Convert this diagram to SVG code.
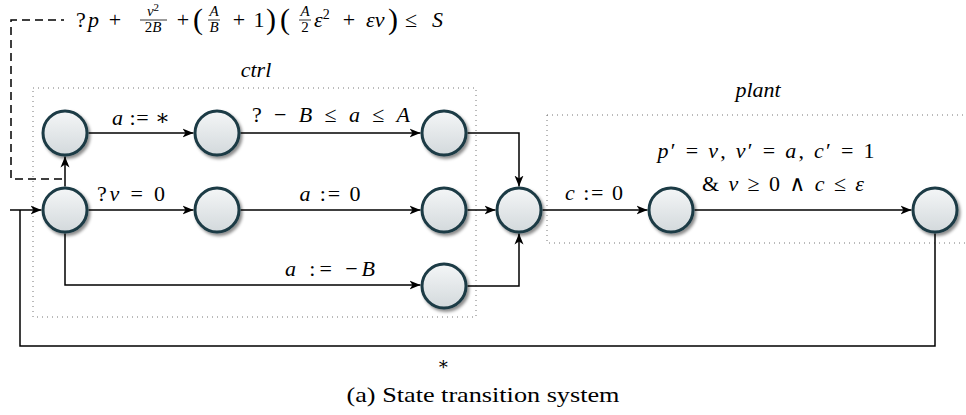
<svg xmlns="http://www.w3.org/2000/svg" width="966" height="415" viewBox="0 0 966 415" font-family="'Liberation Serif', 'DejaVu Serif', 'Times New Roman', serif">
<defs>
<linearGradient id="g" x1="0" y1="0" x2="0" y2="1"><stop offset="0" stop-color="#f4f6f7"/><stop offset="1" stop-color="#d3d9dc"/></linearGradient>
<filter id="sh" x="-30%" y="-30%" width="160%" height="160%"><feDropShadow dx="2" dy="2.5" stdDeviation="1.5" flood-color="#000" flood-opacity="0.45"/></filter>
<marker id="ar" markerUnits="userSpaceOnUse" markerWidth="12" markerHeight="10" refX="11" refY="5" orient="auto" viewBox="0 0 12 10"><path d="M0,0.5 L11,5 L0,9.5 L3,5 z" fill="#000"/></marker>
</defs>
<style>
.n{fill:url(#g);stroke:#1b3a45;stroke-width:3;filter:url(#sh)}
.e{fill:none;stroke:#000;stroke-width:1.5}
.a{marker-end:url(#ar)}
.d{fill:none;stroke:#000;stroke-width:1.5;stroke-dasharray:8 5}
.box{fill:none;stroke:#777;stroke-width:1;stroke-dasharray:1 4}
text{font-family:'Liberation Serif','DejaVu Serif','Times New Roman',serif;font-size:22px;fill:#000}
.i{font-style:italic}
.m{text-anchor:middle}
.s{font-size:15px}
.p{font-size:30px}
</style>

<g id="regions">
<rect class="box" x="33" y="88" width="443" height="229"/>
<text class="i m" x="256" y="77">ctrl</text>
<rect class="box" x="547" y="115" width="430" height="128"/>
<text class="i m" x="758" y="97">plant</text>
</g>

<g id="connectors">
<path class="e a" d="M10,210 H41.5"/>
<path class="e" d="M935,233.5 V346 H20 V210"/>
<path class="e a" d="M65,186.5 V156.5"/>
<path class="e a" d="M88.5,133 H193.5"/>
<path class="e a" d="M240.5,133 H420.5"/>
<path class="e a" d="M467.5,133 H519 V186.5"/>
<path class="e a" d="M88.5,210 H193.5"/>
<path class="e a" d="M240.5,210 H420.5"/>
<path class="e a" d="M467.5,210 H495.5"/>
<path class="e a" d="M542.5,210 H647.5"/>
<path class="e a" d="M694.5,210 H911.5"/>
<path class="e a" d="M65,233.5 V285 H420.5"/>
<path class="e a" d="M467.5,286 H519 V233.5"/>
<path class="d" d="M62,179 H11 V20 H64"/>
</g>

<g id="labels">
<text class="m" x="141" y="125" textLength="58"><tspan class="i">a</tspan> := ∗</text>
<text class="m" x="331" y="122" textLength="158">? − <tspan class="i">B</tspan> ≤ <tspan class="i">a</tspan> ≤ <tspan class="i">A</tspan></text>
<text class="m" x="131" y="201" textLength="68">?<tspan class="i">v</tspan> = 0</text>
<text class="m" x="330" y="201" textLength="61"><tspan class="i">a</tspan> := 0</text>
<text class="m" x="330" y="276" textLength="90"><tspan class="i">a</tspan> := −<tspan class="i">B</tspan></text>
<text class="m" x="594" y="200" textLength="58"><tspan class="i">c</tspan> := 0</text>
<text class="m" x="766" y="158" textLength="217"><tspan class="i">p</tspan>′ = <tspan class="i">v</tspan>, <tspan class="i">v</tspan>′ = <tspan class="i">a</tspan>, <tspan class="i">c</tspan>′ = 1</text>
<text class="m" x="783" y="191" textLength="162">&amp; <tspan class="i">v</tspan> ≥ 0 ∧ <tspan class="i">c</tspan> ≤ <tspan class="i">ε</tspan></text>
<text class="m" x="443" y="370" style="font-size:18px">∗</text>
<text class="m" x="483" y="402" style="font-size:21px" textLength="273" lengthAdjust="spacingAndGlyphs">(a) State transition system</text>
</g>

<g id="guard">
<text class="m" x="81" y="27">?</text>
<text class="i" x="88" y="27">p</text>
<text class="m" x="115" y="27">+</text>
<text class="m s" x="153" y="16"><tspan class="i">v</tspan><tspan font-size="11" dy="-5">2</tspan></text>
<line x1="140" y1="20" x2="167" y2="20" stroke="#000" stroke-width="0.8"/>
<text class="m s" x="153" y="32">2<tspan class="i">B</tspan></text>
<text class="m" x="183" y="27">+</text>
<text class="m p" x="198" y="29">(</text>
<text class="m s i" x="214" y="16">A</text>
<line x1="208" y1="20" x2="220" y2="20" stroke="#000" stroke-width="0.8"/>
<text class="m s i" x="214" y="32">B</text>
<text class="m" x="239" y="27">+</text>
<text class="m" x="259" y="27">1</text>
<text class="m p" x="271" y="29">)</text>
<text class="m p" x="285" y="29">(</text>
<text class="m s i" x="305" y="16">A</text>
<line x1="299" y1="20" x2="311" y2="20" stroke="#000" stroke-width="0.8"/>
<text class="m s" x="305" y="32">2</text>
<text x="314" y="27"><tspan class="i">ε</tspan><tspan font-size="14" dy="-8">2</tspan></text>
<text class="m" x="349" y="27">+</text>
<text x="366" y="27" class="i">εv</text>
<text class="m p" x="393" y="29">)</text>
<text class="m" x="411" y="27">≤</text>
<text x="432" y="27" class="i">S</text>
</g>

<g id="n1"><circle class="n" cx="65" cy="133" r="22"/></g>
<g id="n2"><circle class="n" cx="217" cy="133" r="22"/></g>
<g id="n3"><circle class="n" cx="444" cy="133" r="22"/></g>
<g id="n4"><circle class="n" cx="65" cy="210" r="22"/></g>
<g id="n5"><circle class="n" cx="217" cy="210" r="22"/></g>
<g id="n6"><circle class="n" cx="444" cy="210" r="22"/></g>
<g id="n7"><circle class="n" cx="519" cy="210" r="22"/></g>
<g id="n8"><circle class="n" cx="671" cy="210" r="22"/></g>
<g id="n9"><circle class="n" cx="935" cy="210" r="22"/></g>
<g id="n10"><circle class="n" cx="444" cy="286" r="22"/></g>
</svg>
